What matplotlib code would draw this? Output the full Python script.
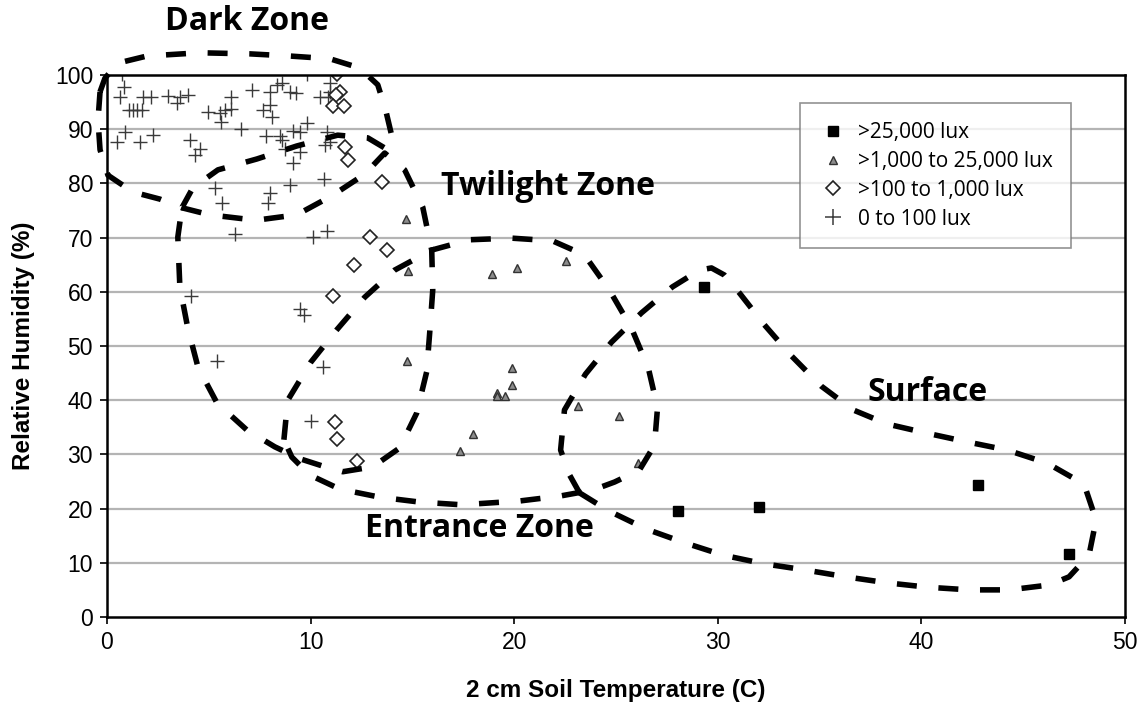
import numpy as np
import matplotlib
matplotlib.use("Agg")
import matplotlib.pyplot as plt
from matplotlib.lines import Line2D

# ---- data ----
sq_x = [28.07, 29.34, 32.04, 42.8, 47.25]
sq_y = [19.6, 60.8, 20.2, 24.4, 11.7]

tri_x = [14.7, 14.77, 14.75, 17.36, 17.96, 18.9, 19.14, 19.17, 19.56, 19.9,
         19.9, 20.15, 22.54, 23.13, 25.13, 26.1]
tri_y = [73.5, 63.9, 47.3, 30.6, 33.7, 63.3, 41.3, 40.7, 40.8, 45.9,
         42.8, 64.3, 65.6, 39.0, 37.1, 28.5]

dia_x = [11.28, 11.44, 11.25, 11.1, 11.64, 11.69, 11.86, 13.5, 12.9, 13.77,
         12.13, 11.1, 11.2, 11.28, 12.26]
dia_y = [100.2, 96.9, 96.3, 94.2, 94.3, 86.8, 84.3, 80.3, 70.2, 67.7,
         65.0, 59.2, 35.9, 32.8, 28.8]

plus_x = [0.72, 0.84, 0.64, 1.75, 2.15, 1.1, 1.29, 1.48, 1.7, 3.0, 3.6, 4.0,
          3.45, 4.98, 5.55, 5.8, 6.1, 6.1, 5.6, 7.1, 8.0, 8.33, 8.58, 8.0,
          7.68, 8.09, 9.0, 9.3, 9.8, 10.46, 10.95, 10.95, 10.87, 0.88, 0.5,
          1.6, 2.24, 4.08, 4.57, 4.32, 6.6, 7.8, 8.5, 8.58, 9.15, 9.48, 9.8,
          8.74, 9.48, 9.15, 10.8, 10.7, 10.95, 5.3, 5.63, 8.0, 7.9, 9.0,
          10.66, 10.13, 10.82, 6.29, 4.11, 9.48, 9.68, 5.42, 10.62, 10.0]
plus_y = [100.2, 97.7, 95.9, 96.0, 96.0, 93.5, 93.5, 93.5, 93.5, 96.1, 96.0,
          96.3, 94.9, 93.2, 92.9, 93.5, 96.0, 93.8, 91.4, 97.3, 96.9, 98.2,
          98.5, 94.5, 93.5, 92.3, 96.9, 96.6, 100.2, 96.0, 98.5, 96.9, 96.0,
          89.4, 87.7, 87.7, 88.9, 88.0, 86.4, 85.2, 90.0, 88.7, 88.7, 88.0,
          89.7, 89.5, 91.1, 86.4, 85.8, 83.7, 89.5, 87.0, 87.7, 79.1, 76.3,
          78.2, 76.3, 79.7, 80.8, 70.2, 71.2, 70.6, 59.2, 56.8, 55.7, 47.3,
          46.2, 36.2]

labels = [">25,000 lux", ">1,000 to 25,000 lux", ">100 to 1,000 lux", "0 to 100 lux"]

# hand-drawn zone outlines (data units)
dark_x = [-0.34, -0.10, 0.54, 1.96, 4.56, 7.02, 8.98, 10.94, 12.41, 13.30, 13.69,
          13.98, 13.79, 12.81, 11.33, 9.32, 7.36, 5.45, 4.22, 3.68, 2.60, 1.28,
          0.05, -0.34, -0.44, -0.34]
dark_y = [96.9, 99.4, 102.2, 103.5, 104.1, 103.9, 103.5, 103.0, 101.3, 98.2, 93.5,
          88.9, 86.2, 88.4, 88.9, 86.9, 84.5, 82.5, 79.2, 75.5, 77.1, 78.4,
          81.5, 86.2, 91.7, 96.9]

twi_x = [3.68, 5.05, 7.31, 9.32, 11.04, 12.66, 13.64, 14.62, 15.51, 15.95, 16.0,
         15.85, 15.70, 15.21, 14.38, 13.05, 11.58, 10.55, 9.47, 8.24, 6.87, 5.40,
         4.47, 3.97, 3.58, 3.48, 3.68]
twi_y = [75.5, 74.2, 73.2, 74.2, 77.7, 81.7, 85.6, 82.5, 75.6, 67.7, 60.3,
         52.4, 45.2, 37.6, 31.2, 27.7, 26.8, 27.9, 29.2, 31.4, 34.5, 39.5,
         46.1, 53.3, 60.9, 70.1, 75.5]

ent_x = [8.69, 8.88, 10.01, 11.29, 12.66, 14.13, 15.95, 17.81, 19.87, 21.88, 23.45,
         24.68, 25.76, 26.59, 27.04, 26.89, 26.15, 24.93, 23.85, 22.23, 20.26,
         17.42, 15.36, 13.40, 11.43, 9.96, 9.08, 8.69]
ent_y = [32.7, 40.0, 47.0, 53.0, 59.0, 64.0, 67.7, 69.6, 69.9, 69.4, 66.8,
         60.3, 53.3, 45.9, 38.6, 31.7, 27.1, 24.9, 23.4, 22.3, 21.4,
         20.7, 21.2, 22.1, 23.6, 26.2, 29.5, 32.7]

surf_x = [23.21, 22.72, 22.28, 22.47, 23.50, 24.78, 26.25, 27.77, 29.10, 29.69,
          30.32, 31.06, 32.29, 33.61, 35.08, 36.65, 38.32, 40.28, 42.25, 44.21,
          46.17, 47.99, 48.58, 48.23, 47.25, 46.27, 44.31, 42.35, 40.28, 38.32,
          36.31, 34.25, 32.29, 30.27, 28.36, 26.50, 24.63, 23.21]
surf_y = [22.9, 26.2, 30.8, 38.2, 44.8, 50.7, 56.1, 60.9, 64.0, 64.4,
          63.1, 59.8, 53.9, 48.2, 42.6, 38.2, 35.6, 33.9, 32.3, 30.8,
          28.4, 24.5, 17.9, 11.4, 7.4, 5.9, 5.0, 5.0, 5.5, 6.3,
          7.4, 8.7, 9.8, 11.4, 13.7, 16.2, 19.6, 22.9]

zone_names = ["Dark Zone", "Twilight Zone", "Entrance Zone", "Surface"]
zone_lx = [6.87, 21.64, 18.3, 40.3]
zone_ly = [109.8, 79.5, 16.4, 41.5]

# ---- figure ----
fig = plt.figure(figsize=(11.44, 7.17), dpi=100)
ax = fig.add_axes([0.0935, 0.1395, 0.8899, 0.7559])

for y in range(10, 100, 10):
    ax.axhline(y, color="#b4b4b4", lw=1.6, zorder=0)

ax.plot(plus_x, plus_y, ls="none", marker="+", ms=10.5, mew=1.0, color="#3a3a3a", zorder=2)
ax.plot(dia_x, dia_y, ls="none", marker="D", ms=7.5, mew=1.2, mfc="white", mec="#222222", zorder=2)
ax.plot(tri_x, tri_y, ls="none", marker="^", ms=5.5, mew=1.0, mfc="#8c8c8c", mec="#333333", zorder=2)
ax.plot(sq_x, sq_y, ls="none", marker="s", ms=7, color="black", zorder=2)

for zx, zy in [(dark_x, dark_y), (twi_x, twi_y), (ent_x, ent_y), (surf_x, surf_y)]:
    ax.plot(zx, zy, color="black", lw=4.0, ls=(0, (3.6, 3.9)),
            solid_joinstyle="round", clip_on=False, zorder=3)

for name, lx, ly in zip(zone_names, zone_lx, zone_ly):
    ax.text(lx, ly, name, family="Open Sans", fontweight="bold", fontsize=23,
            ha="center", va="center", clip_on=False, zorder=4)

ax.set_xlim(0, 50)
ax.set_ylim(0, 100)
ax.set_xticks(range(0, 51, 10))
ax.set_yticks(range(0, 101, 10))
ax.tick_params(labelsize=16.5, length=5, width=1.2, direction="out", pad=5)
for lab in ax.get_xticklabels() + ax.get_yticklabels():
    lab.set_family("Liberation Sans")
for sp in ax.spines.values():
    sp.set_linewidth(1.8)
    sp.set_color("black")

ax.set_xlabel("2 cm Soil Temperature (C)", family="Liberation Sans",
              fontweight="bold", fontsize=17.5, labelpad=18)
ax.set_ylabel("Relative Humidity (%)", family="Liberation Sans",
              fontweight="bold", fontsize=17.5, labelpad=14)

handles = [
    Line2D([], [], ls="none", marker="s", ms=7, color="black"),
    Line2D([], [], ls="none", marker="^", ms=5.5, mfc="#8c8c8c", mec="#333333"),
    Line2D([], [], ls="none", marker="D", ms=7, mfc="white", mec="#222222", mew=1.2),
    Line2D([], [], ls="none", marker="+", ms=11, mew=1.1, color="#3a3a3a"),
]
leg = ax.legend(handles, labels, loc="upper left", bbox_to_anchor=(0.681, 0.948),
                borderaxespad=0, frameon=True, fancybox=False, edgecolor="#777777",
                prop={"family": "Open Sans", "size": 15}, handlelength=1.3,
                handletextpad=0.55, borderpad=0.9, labelspacing=0.38)
leg.get_frame().set_linewidth(1.2)
leg.set_zorder(5)

fig.savefig("out.png", dpi=100)
